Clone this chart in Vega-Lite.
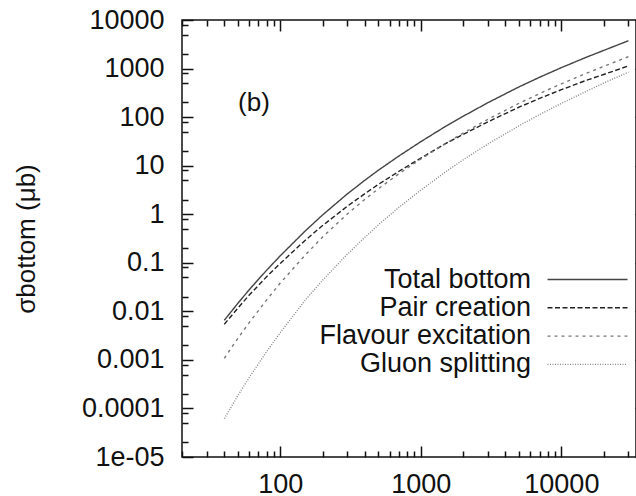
{
 "$schema": "https://vega.github.io/schema/vega-lite/v6.json",
 "width": 454,
 "height": 437,
 "autosize": {"type": "none"},
 "padding": {"left": 182, "top": 20, "right": 0, "bottom": 39},
 "background": "white",
 "config": {
  "view": {"stroke": "#111", "strokeWidth": 1.5},
  "font": "Liberation Sans",
  "axis": {"grid": false, "domain": false, "tickColor": "#111", "tickWidth": 1.5, "tickSize": 11,
   "labelFont": "Liberation Sans", "labelFontSize": 27, "labelColor": "#111", "labelFlush": false, "labelOverlap": false, "labelBound": false,
   "titleFont": "Liberation Sans", "titleFontSize": 26, "titleFontWeight": "normal", "titleColor": "#111"}
 },
 "layer": [
  {
   "data": {"values": [
    {"process": "Total bottom", "E": 40, "sigma": 0.00656},
    {"process": "Total bottom", "E": 50, "sigma": 0.0147},
    {"process": "Total bottom", "E": 60, "sigma": 0.0276},
    {"process": "Total bottom", "E": 80, "sigma": 0.0703},
    {"process": "Total bottom", "E": 100, "sigma": 0.139},
    {"process": "Total bottom", "E": 150, "sigma": 0.448},
    {"process": "Total bottom", "E": 200, "sigma": 0.966},
    {"process": "Total bottom", "E": 300, "sigma": 2.62},
    {"process": "Total bottom", "E": 400, "sigma": 5.01},
    {"process": "Total bottom", "E": 500, "sigma": 8.09},
    {"process": "Total bottom", "E": 700, "sigma": 15.9},
    {"process": "Total bottom", "E": 1000, "sigma": 31.2},
    {"process": "Total bottom", "E": 1500, "sigma": 64.5},
    {"process": "Total bottom", "E": 2000, "sigma": 104},
    {"process": "Total bottom", "E": 3000, "sigma": 198},
    {"process": "Total bottom", "E": 5000, "sigma": 420},
    {"process": "Total bottom", "E": 7000, "sigma": 662},
    {"process": "Total bottom", "E": 10000, "sigma": 1045},
    {"process": "Total bottom", "E": 15000, "sigma": 1703},
    {"process": "Total bottom", "E": 20000, "sigma": 2363},
    {"process": "Total bottom", "E": 30000, "sigma": 3743},
    {"process": "Pair creation", "E": 40, "sigma": 0.00542},
    {"process": "Pair creation", "E": 50, "sigma": 0.0117},
    {"process": "Pair creation", "E": 60, "sigma": 0.0214},
    {"process": "Pair creation", "E": 80, "sigma": 0.0516},
    {"process": "Pair creation", "E": 100, "sigma": 0.0971},
    {"process": "Pair creation", "E": 150, "sigma": 0.288},
    {"process": "Pair creation", "E": 200, "sigma": 0.584},
    {"process": "Pair creation", "E": 300, "sigma": 1.46},
    {"process": "Pair creation", "E": 400, "sigma": 2.65},
    {"process": "Pair creation", "E": 500, "sigma": 4.13},
    {"process": "Pair creation", "E": 700, "sigma": 7.68},
    {"process": "Pair creation", "E": 1000, "sigma": 14.3},
    {"process": "Pair creation", "E": 1500, "sigma": 28.4},
    {"process": "Pair creation", "E": 2000, "sigma": 44.0},
    {"process": "Pair creation", "E": 3000, "sigma": 80.0},
    {"process": "Pair creation", "E": 5000, "sigma": 160.5},
    {"process": "Pair creation", "E": 7000, "sigma": 243},
    {"process": "Pair creation", "E": 10000, "sigma": 367},
    {"process": "Pair creation", "E": 15000, "sigma": 570},
    {"process": "Pair creation", "E": 20000, "sigma": 754},
    {"process": "Pair creation", "E": 30000, "sigma": 1136},
    {"process": "Flavour excitation", "E": 40, "sigma": 0.00108},
    {"process": "Flavour excitation", "E": 50, "sigma": 0.00279},
    {"process": "Flavour excitation", "E": 60, "sigma": 0.0058},
    {"process": "Flavour excitation", "E": 80, "sigma": 0.0172},
    {"process": "Flavour excitation", "E": 100, "sigma": 0.0382},
    {"process": "Flavour excitation", "E": 150, "sigma": 0.143},
    {"process": "Flavour excitation", "E": 200, "sigma": 0.338},
    {"process": "Flavour excitation", "E": 300, "sigma": 1.01},
    {"process": "Flavour excitation", "E": 400, "sigma": 2.03},
    {"process": "Flavour excitation", "E": 500, "sigma": 3.36},
    {"process": "Flavour excitation", "E": 700, "sigma": 6.84},
    {"process": "Flavour excitation", "E": 1000, "sigma": 13.7},
    {"process": "Flavour excitation", "E": 1500, "sigma": 28.7},
    {"process": "Flavour excitation", "E": 2000, "sigma": 46.8},
    {"process": "Flavour excitation", "E": 3000, "sigma": 90.1},
    {"process": "Flavour excitation", "E": 5000, "sigma": 193},
    {"process": "Flavour excitation", "E": 7000, "sigma": 306},
    {"process": "Flavour excitation", "E": 10000, "sigma": 486},
    {"process": "Flavour excitation", "E": 15000, "sigma": 795},
    {"process": "Flavour excitation", "E": 20000, "sigma": 1106},
    {"process": "Flavour excitation", "E": 30000, "sigma": 1759},
    {"process": "Gluon splitting", "E": 40, "sigma": 0.0000617},
    {"process": "Gluon splitting", "E": 50, "sigma": 0.000185},
    {"process": "Gluon splitting", "E": 60, "sigma": 0.00043},
    {"process": "Gluon splitting", "E": 80, "sigma": 0.00148},
    {"process": "Gluon splitting", "E": 100, "sigma": 0.00364},
    {"process": "Gluon splitting", "E": 150, "sigma": 0.0168},
    {"process": "Gluon splitting", "E": 200, "sigma": 0.0438},
    {"process": "Gluon splitting", "E": 300, "sigma": 0.150},
    {"process": "Gluon splitting", "E": 400, "sigma": 0.335},
    {"process": "Gluon splitting", "E": 500, "sigma": 0.606},
    {"process": "Gluon splitting", "E": 700, "sigma": 1.39},
    {"process": "Gluon splitting", "E": 1000, "sigma": 3.14},
    {"process": "Gluon splitting", "E": 1500, "sigma": 7.44},
    {"process": "Gluon splitting", "E": 2000, "sigma": 13.2},
    {"process": "Gluon splitting", "E": 3000, "sigma": 27.9},
    {"process": "Gluon splitting", "E": 5000, "sigma": 66.3},
    {"process": "Gluon splitting", "E": 7000, "sigma": 113},
    {"process": "Gluon splitting", "E": 10000, "sigma": 192},
    {"process": "Gluon splitting", "E": 15000, "sigma": 338},
    {"process": "Gluon splitting", "E": 20000, "sigma": 503},
    {"process": "Gluon splitting", "E": 30000, "sigma": 847}
   ]},
   "mark": {"type": "line", "strokeWidth": 1.4},
   "encoding": {
    "x": {"field": "E", "type": "quantitative",
     "scale": {"type": "log", "domain": [20, 40000], "range": [0, 464], "nice": false},
     "axis": {"orient": "bottom", "title": null, "offset": -11,
      "values": [20,30,40,50,60,70,80,90,100,200,300,400,500,600,700,800,900,1000,2000,3000,4000,5000,6000,7000,8000,9000,10000,20000,30000,40000],
      "labelPadding": 14,
      "labelExpr": "abs(log(datum.value)/LN10 - round(log(datum.value)/LN10)) < 0.001 ? format(datum.value, 'd') : ''",
      "tickDash": {"condition": {"test": "abs(log(datum.value)/LN10 - round(log(datum.value)/LN10)) >= 0.001", "value": [0, 5, 6, 40]}, "value": [20, 0]}}},
    "y": {"field": "sigma", "type": "quantitative",
     "scale": {"type": "log", "domain": [0.00001, 10000], "nice": false},
     "axis": {"orient": "left", "title": "σbottom (μb)", "offset": -11,
      "values": [0.00001,0.00002,0.00005,0.00008,0.0001,0.0002,0.0005,0.0008,0.001,0.002,0.005,0.008,0.01,0.02,0.05,0.08,0.1,0.2,0.5,0.8,1,2,5,8,10,20,50,80,100,200,500,800,1000,2000,5000,8000,10000],
      "labelPadding": 18, "titlePadding": 42,
      "labelExpr": "abs(log(datum.value)/LN10 - round(log(datum.value)/LN10)) < 0.001 ? (datum.value < 0.00002 ? '1e-05' : format(datum.value, '~g')) : ''",
      "tickDash": {"condition": {"test": "abs(log(datum.value)/LN10 - round(log(datum.value)/LN10)) >= 0.001", "value": [0, 5, 6, 40]}, "value": [20, 0]}}},
    "color": {"field": "process", "type": "nominal",
     "scale": {"domain": ["Total bottom", "Pair creation", "Flavour excitation", "Gluon splitting"], "range": ["#444444", "#222222", "#777777", "#888888"]},
     "legend": {"title": null, "orient": "none", "legendX": 392, "legendY": 246, "symbolType": "M-16,0H16", "symbolSize": 25, "symbolStrokeWidth": 1.4, "labelFont": "Liberation Sans", "labelFontSize": 27, "labelColor": "#111", "labelAlign": "right", "labelOffset": -70, "labelLimit": 500, "rowPadding": 0.3, "padding": 0, "offset": 0}},
    "strokeDash": {"field": "process", "type": "nominal",
     "scale": {"domain": ["Total bottom", "Pair creation", "Flavour excitation", "Gluon splitting"], "range": [[1, 0], [5, 2.5], [3, 4], [1, 1.5]]},
     "legend": {"title": null, "orient": "none", "legendX": 392, "legendY": 246, "symbolType": "M-16,0H16", "symbolSize": 25, "symbolStrokeWidth": 1.4, "labelFont": "Liberation Sans", "labelFontSize": 27, "labelColor": "#111", "labelAlign": "right", "labelOffset": -70, "labelLimit": 500, "rowPadding": 0.3, "padding": 0, "offset": 0}}
   }
  },
  {
   "data": {"values": [{"E": 65, "sigma": 195, "label": "(b)"}]},
   "mark": {"type": "text", "fontSize": 26, "font": "Liberation Sans", "color": "#111"},
   "encoding": {
    "x": {"field": "E", "type": "quantitative",
     "scale": {"type": "log", "domain": [20, 40000], "range": [0, 464], "nice": false},
     "axis": {"orient": "top", "title": null, "labels": false, "offset": -11,
      "values": [20,30,40,50,60,70,80,90,100,200,300,400,500,600,700,800,900,1000,2000,3000,4000,5000,6000,7000,8000,9000,10000,20000,30000,40000],
      "tickDash": {"condition": {"test": "abs(log(datum.value)/LN10 - round(log(datum.value)/LN10)) >= 0.001", "value": [0, 5, 6, 40]}, "value": [20, 0]}}},
    "y": {"field": "sigma", "type": "quantitative",
     "scale": {"type": "log", "domain": [0.00001, 10000], "nice": false},
     "axis": {"orient": "right", "title": null, "labels": false, "offset": -1,
      "values": [0.00001,0.00002,0.00005,0.00008,0.0001,0.0002,0.0005,0.0008,0.001,0.002,0.005,0.008,0.01,0.02,0.05,0.08,0.1,0.2,0.5,0.8,1,2,5,8,10,20,50,80,100,200,500,800,1000,2000,5000,8000,10000],
      "tickDash": {"condition": {"test": "abs(log(datum.value)/LN10 - round(log(datum.value)/LN10)) >= 0.001", "value": [0, 5, 6, 40]}, "value": [20, 0]}}},
    "text": {"field": "label"}
   }
  }
 ],
 "resolve": {"axis": {"x": "independent", "y": "independent"}}
}
